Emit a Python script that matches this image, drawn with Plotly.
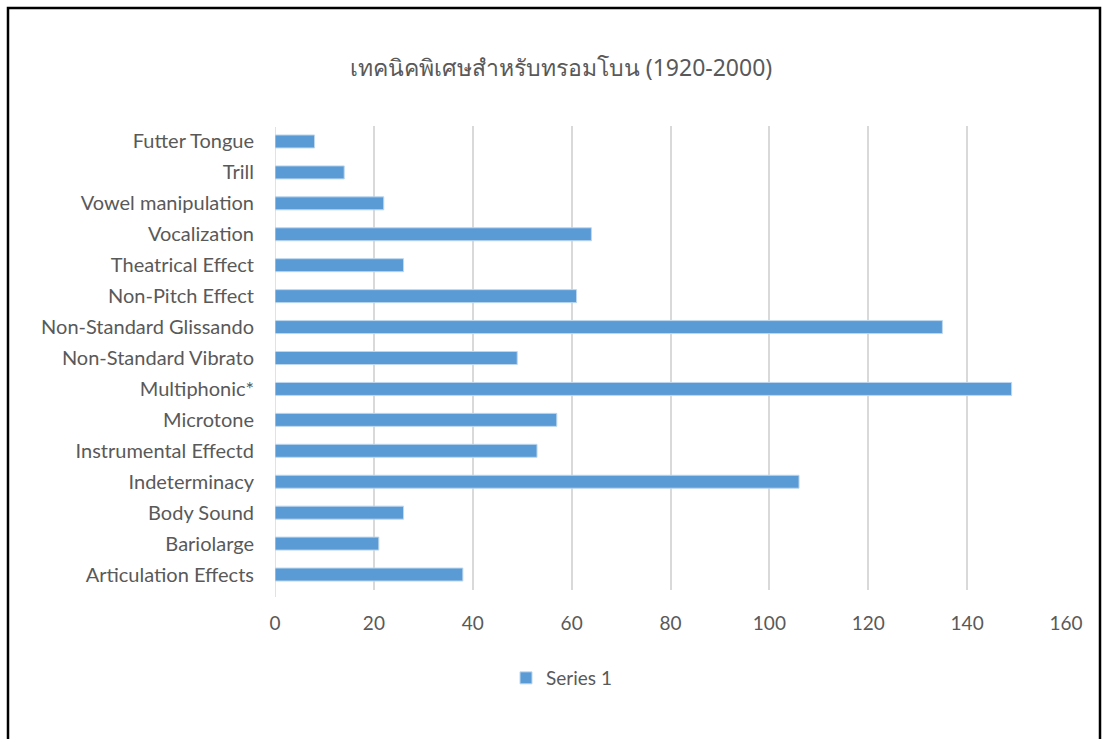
import plotly.graph_objects as go

categories = ["Articulation Effects", "Bariolarge", "Body Sound", "Indeterminacy",
              "Instrumental Effectd", "Microtone", "Multiphonic*", "Non-Standard Vibrato",
              "Non-Standard Glissando", "Non-Pitch Effect", "Theatrical Effect",
              "Vocalization", "Vowel manipulation", "Trill", "Futter Tongue"]
values = [38, 21, 26, 106, 53, 57, 149, 49, 135, 61, 26, 64, 22, 14, 8]
x_ticks = [0, 20, 40, 60, 80, 100, 120, 140, 160]
title = "เทคนิคพิเศษสำหรับทรอมโบน (1920-2000)"
series_name = "Series 1"

W, H = 1106, 739
L, R, T, B = 275, 40, 126, 149
pw, ph = W - L - R, H - T - B

def px(x):
    return (x - L) / pw

def py(y):
    return (H - B - y) / ph

fig = go.Figure()
fig.add_trace(go.Bar(
    y=categories, x=values, orientation="h", name=series_name,
    marker=dict(color="#5B9BD5", line=dict(color="#BDD7EE", width=1)),
    showlegend=True,
))

fig.update_layout(
    width=W, height=H,
    margin=dict(l=L, r=R, t=T, b=B),
    paper_bgcolor="white", plot_bgcolor="white",
    bargap=0.58,
    font=dict(family="Lato, Open Sans, sans-serif", color="#595959", size=18),
    title=dict(text=title, x=561 / W, xanchor="center", y=1 - 68 / H, yanchor="middle",
               font=dict(size=23, color="#595959",
                         family="Liberation Sans Narrow, Noto Sans, sans-serif")),
    xaxis=dict(range=[0, 160], tickvals=x_ticks, showgrid=True, gridcolor="#D9D9D9",
               gridwidth=1.5, zeroline=False,
               showline=False, ticks="",
               tickfont=dict(size=19, color="#595959"), ticklabelstandoff=20),
    yaxis=dict(categoryorder="array", categoryarray=categories, showgrid=False,
               zeroline=False, showline=False, ticks="", ticklabelstandoff=20,
               tickfont=dict(size=20, color="#595959")),
    legend=dict(orientation="h", x=px(506), xanchor="left", y=py(678), yanchor="middle",
                font=dict(size=19, color="#595959"), itemwidth=30),
    shapes=[
        dict(type="line", xref="x", yref="paper", x0=x_ticks[0], x1=x_ticks[0],
             y0=py(597), y1=py(127), line=dict(color="#D9D9D9", width=1.5), layer="below"),
        dict(type="rect", xref="paper", yref="paper",
             x0=px(8), x1=px(1100), y0=py(760), y1=py(8),
             line=dict(color="black", width=2.5), fillcolor="rgba(0,0,0,0)", layer="above"),
    ],
)

fig.write_html("out.html")
